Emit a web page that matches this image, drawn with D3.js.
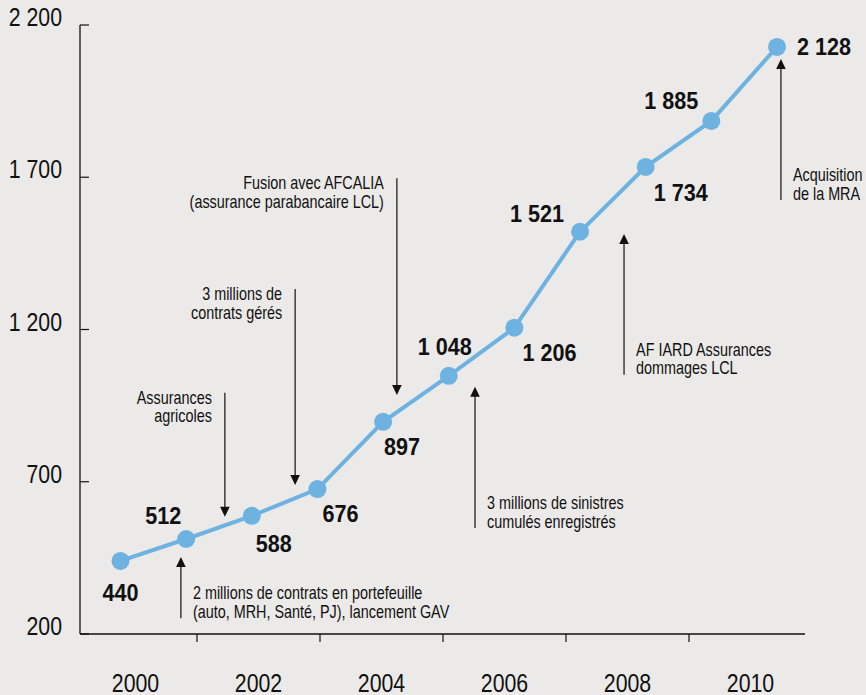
<!DOCTYPE html>
<html><head><meta charset="utf-8">
<script src="https://cdn.jsdelivr.net/npm/d3@7"></script>
<style>
html,body{margin:0;padding:0;background:#ebeae8;overflow:hidden;}
svg{display:block;}
text{font-family:'Liberation Sans',Arial,Helvetica,sans-serif;fill:#111;}
</style></head><body>
<svg id="chart" width="866" height="695"></svg>
<script>
// ---- data ----
const years = [2000, 2001, 2002, 2003, 2004, 2005, 2006, 2007, 2008, 2009, 2010];
const values = [440, 512, 588, 676, 897, 1048, 1206, 1521, 1734, 1885, 2128];
const yTicks = [200, 700, 1200, 1700, 2200];
const axisYears = [2000, 2002, 2004, 2006, 2008, 2010];

// annotations: text lines, year position, arrow tip value, arrow tail value
const noteTexts = [
  ["Fusion avec AFCALIA", "(assurance parabancaire LCL)"],
  ["3 millions de", "contrats gérés"],
  ["Assurances", "agricoles"],
  ["2 millions de contrats en portefeuille", "(auto, MRH, Santé, PJ), lancement GAV"],
  ["3 millions de sinistres", "cumulés enregistrés"],
  ["AF IARD Assurances", "dommages LCL"],
  ["Acquisition", "de la MRA"]
];
const noteYears = [2004.21, 2002.66, 2001.59, 2000.92, 2005.40, 2007.67, 2010.06];
const noteTips  = [985, 689, 585, 453, 1012, 1514, 2088];
const noteTails = [1697, 1333, 992, 252, 548, 1051, 1625];

// ---- layout (positions, not data) ----
const labelOffsets = [[0,40],[-23,-15],[22,36],[23,33],[19,33],[-4,-21],[35,33],[-43,-10],[35,34],[-40,-12],[20,8]];

const svg = d3.select("#chart");
const fmt = d3.formatLocale({decimal:",", thousands:"\u00a0", grouping:[3], currency:["","€"]}).format(",");

// condensed text helper: horizontally compressed Liberation Sans
function ctext(parent, px, py, str, size, anchor, sx, weight, fill) {
  const g = parent.append("g").attr("transform", `translate(${px},${py}) scale(${sx},1)`);
  g.append("text").attr("text-anchor", anchor).attr("font-size", size)
    .attr("font-weight", weight || "normal").attr("fill", fill || "#111").text(str);
  return g;
}

const x = d3.scaleLinear().domain([2000, 2010]).range([120.5, 777]);
const y = d3.scaleLinear().domain([200, 2200]).range([634, 25]);
const xAxisBand = d3.scaleBand().domain(axisYears).range([74, 812]).padding(0);

const axisX0 = 80, axisX1 = 805;
const ink = "#111";

// y axis
svg.append("line").attr("x1", axisX0).attr("x2", axisX0).attr("y1", y(2200)).attr("y2", y(200))
  .attr("stroke", ink).attr("stroke-width", 1.3);
const yAxisG = svg.append("g");
yTicks.forEach(t => {
  yAxisG.append("line").attr("x1", axisX0).attr("x2", axisX0 + 9).attr("y1", y(t)).attr("y2", y(t))
    .attr("stroke", ink).attr("stroke-width", 1.2);
  ctext(yAxisG, 62, y(t) + 1, fmt(t), 26, "end", 0.82);
});

// x axis
svg.append("line").attr("x1", axisX0).attr("x2", axisX1).attr("y1", y(200)).attr("y2", y(200))
  .attr("stroke", ink).attr("stroke-width", 1.3);
const xAxisG = svg.append("g");
axisYears.slice(1).forEach(d => {
  xAxisG.append("line").attr("x1", xAxisBand(d)).attr("x2", xAxisBand(d))
    .attr("y1", y(200)).attr("y2", y(200) + 8).attr("stroke", ink).attr("stroke-width", 1.2);
});
axisYears.forEach(d => {
  ctext(xAxisG, xAxisBand(d) + xAxisBand.bandwidth() / 2, 692, String(d), 26, "middle", 0.82);
});

// annotations
const notes = noteTexts.map((t, i) => ({t, yr: noteYears[i], tip: noteTips[i], tail: noteTails[i]}));
const noteG = svg.append("g");
notes.forEach(d => {
  const down = d.tip < d.tail; // arrow pointing down
  const cx = x(d.yr), ty = y(d.tip), tailY = y(d.tail), s = down ? -1 : 1;
  noteG.append("line").attr("x1", cx).attr("x2", cx).attr("y1", tailY).attr("y2", ty + s * 8)
    .attr("stroke", ink).attr("stroke-width", 1.2);
  noteG.append("path")
    .attr("d", `M${cx},${ty} L${cx - 4.8},${ty + s * 10} L${cx + 4.8},${ty + s * 10} Z`)
    .attr("fill", ink);
  d.t.forEach((line, j) => {
    ctext(noteG, down ? cx - 13 : cx + 12,
      down ? tailY + 11 + j * 18.5 : tailY - 19 + j * 18.5,
      line, 18, down ? "end" : "start", 0.8, "normal", "#1a1a1a");
  });
});

// line + points
const pts = years.map((yr, i) => ({yr, v: values[i], off: labelOffsets[i]}));
const blue = "#6db2e1";
svg.append("path").datum(pts)
  .attr("d", d3.line().x(d => x(d.yr)).y(d => y(d.v)))
  .attr("fill", "none").attr("stroke", blue).attr("stroke-width", 4);
svg.append("g").selectAll("circle").data(pts).join("circle")
  .attr("cx", d => x(d.yr)).attr("cy", d => y(d.v)).attr("r", 9).attr("fill", blue);
const lblG = svg.append("g");
pts.forEach((d, i) => {
  ctext(lblG, x(d.yr) + d.off[0], y(d.v) + d.off[1], fmt(d.v), 24,
    i === pts.length - 1 ? "start" : "middle", 0.9, "bold", "#0d0d0d");
});
</script>
</body></html>
